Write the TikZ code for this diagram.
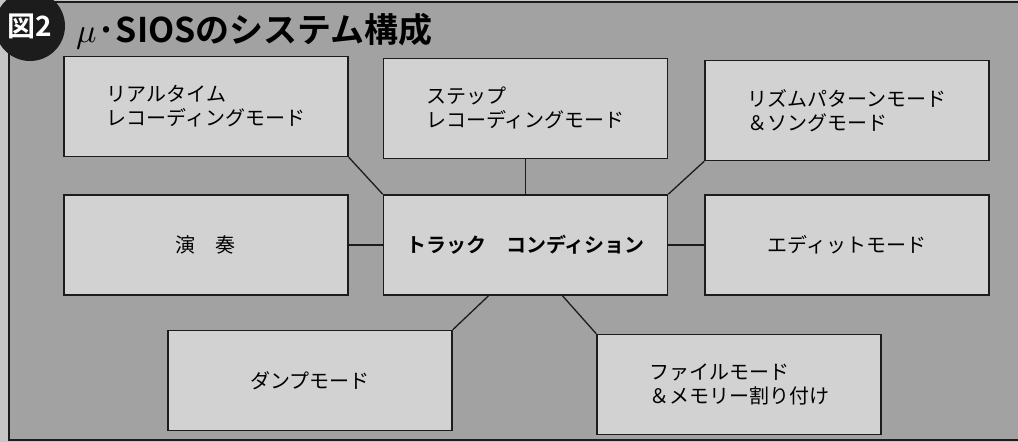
\documentclass[tikz,border=0pt]{standalone}
\usepackage{fontspec}
\setmainfont{Noto Sans CJK JP}[BoldFont={Noto Sans CJK JP Bold}]
\newfontfamily\mufont{latinmodern-math.otf}
\usepackage{tikz}
\usetikzlibrary{positioning}

\definecolor{pagegray}{HTML}{C6C6C6}
\definecolor{framegray}{HTML}{A2A2A2}
\definecolor{boxgray}{HTML}{D2D2D2}
\definecolor{inkgray}{HTML}{1C1C1C}

\begin{document}
\begin{tikzpicture}[x=1pt, y=-1pt,
        block/.style={rectangle, draw=inkgray, line width=1.6pt, fill=boxgray, minimum width=284pt, minimum height=100pt, inner sep=0pt, align=left, font=\fontsize{20}{24}\selectfont},
        badge/.style={circle, fill=inkgray, text=white, minimum size=70pt, inner sep=0pt, font=\fontsize{28}{28}\selectfont\bfseries},
        line/.style={draw=inkgray, line width=1.3pt}]

        \useasboundingbox (0,0) rectangle (1018,442);

        % Frame
        \fill [pagegray] (0,0) rectangle (1018,442);
        \fill [framegray] (9,2) rectangle (1018,440);
        \draw [inkgray, line width=1.6pt] (1018,2) -- (9,2) -- (9,440) -- (1018,440);

        % Title
        \node [badge] (badge) at (30,26) {図2};
        \node [anchor=west, inner sep=0pt, font=\fontsize{34}{34}\selectfont\bfseries] (title) at (76,32) {{\mufont 𝜇}·SIOSのシステム構成};

        % Nodes
        \node [block, font=\fontsize{20}{24}\selectfont\bfseries] (track) at (525.5,245) {トラック　コンディション};
        \node [block, above left=37pt and 34pt of track] (realtime) {リアルタイム\\レコーディングモード};
        \node [block, above=35pt of track] (steprec) {ステップ\\レコーディングモード};
        \node [block, above right=33pt and 36pt of track] (rhythm) {リズムパターンモード\\＆ソングモード};
        \node [block, left=34pt of track] (play) {演　奏};
        \node [block, right=36pt of track] (edit) {エディットモード};
        \node [block, below left=34pt and -70pt of track] (dump) {ダンプモード};
        \node [block, below right=38pt and -72pt of track] (file) {ファイルモード\\＆メモリー割り付け};

        % Paths
        \path [line] (realtime.south east) -- (track.north west);
        \path [line] (steprec.south) -- (track.north);
        \path [line] (rhythm.south west) -- (track.north east);
        \path [line] (play.east) -- (track.west);
        \path [line] (track.east) -- (edit.west);
        \path [line] ([xshift=-37pt]track.south) -- (dump.north east);
        \path [line] ([xshift=37pt]track.south) -- (file.north west);

    \end{tikzpicture}
\end{document}
